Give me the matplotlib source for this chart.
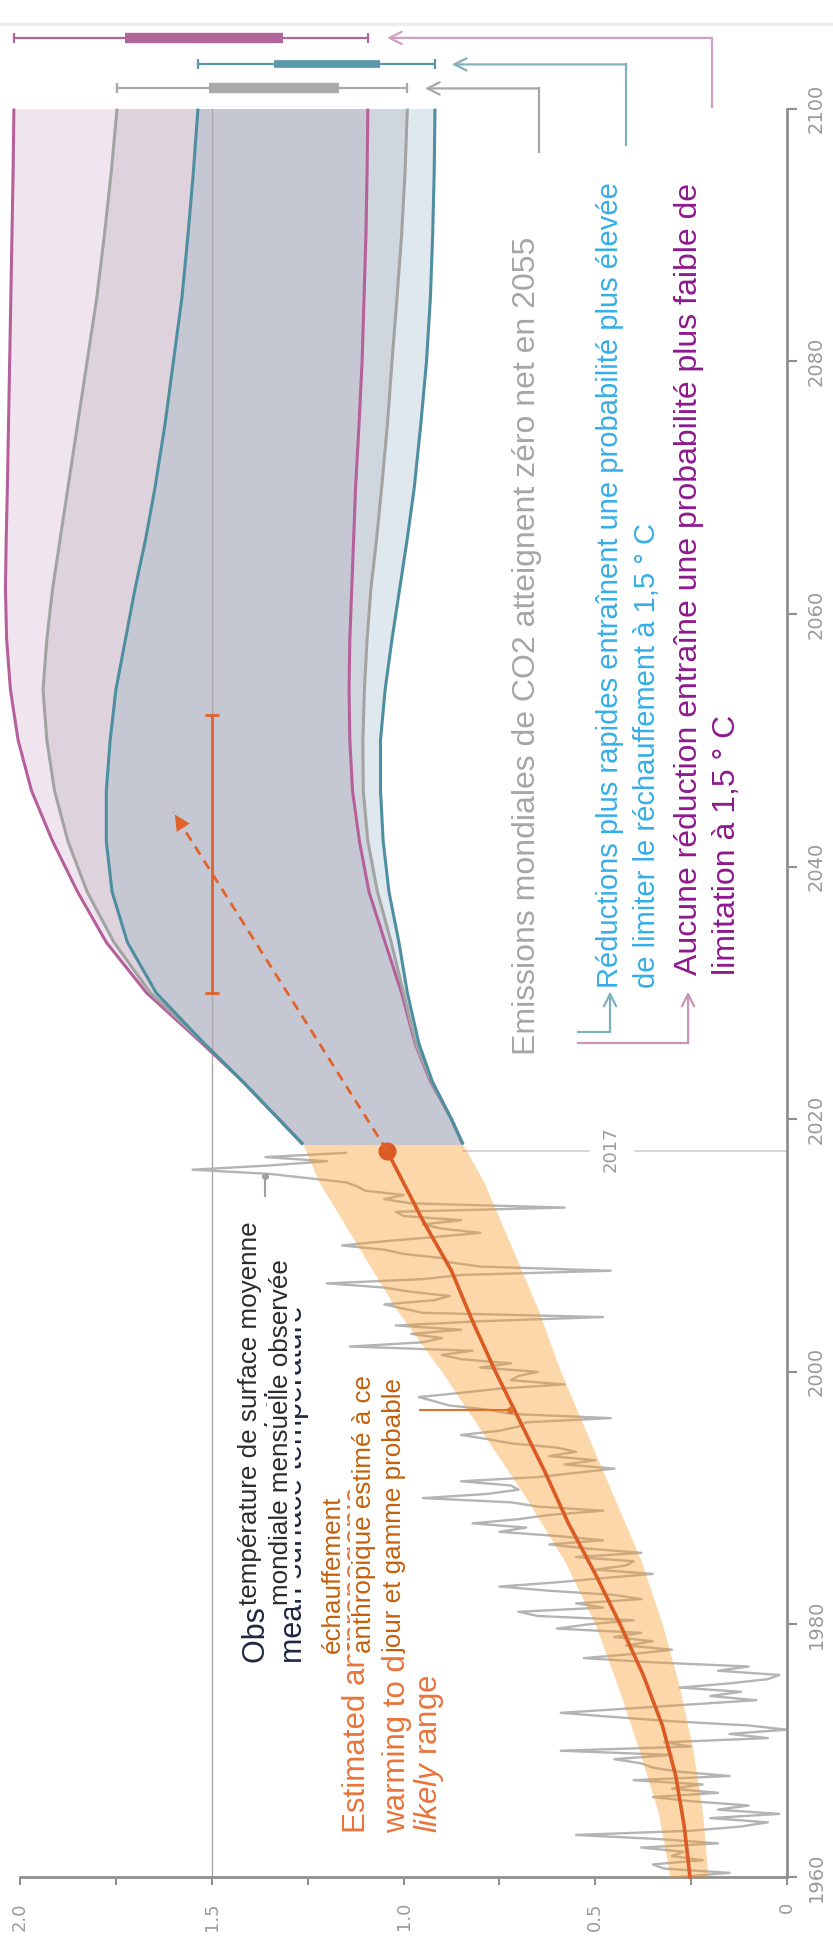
import matplotlib.pyplot as plt
import numpy as np

plt.rcParams['font.family'] = ['DejaVu Sans']
plt.rcParams['mathtext.fontset'] = 'custom'
plt.rcParams['mathtext.rm'] = 'Liberation Sans'
plt.rcParams['mathtext.it'] = 'Liberation Sans:italic'

# observed monthly global mean surface temperature, read every 4 months from 1960
obs_start = 1960
obs_temp = [
    0.28, 0.15, 0.32, 0.35, 0.22, 0.30, 0.27, 0.38, 0.18, 0.33, 0.55, 0.25,
    0.12, 0.05, 0.20, 0.02, 0.18, 0.10, 0.25, 0.35, 0.18, 0.30, 0.22, 0.40,
    0.15, 0.28, 0.35, 0.38, 0.45, 0.30, 0.59, 0.25, 0.32, 0.05, 0.15, 0.00,
    0.10, 0.30, 0.45, 0.59, 0.42, 0.25, 0.08, 0.20, 0.12, 0.28, 0.15, 0.05,
    0.02, 0.18, 0.10, 0.35, 0.53, 0.40, 0.30, 0.42, 0.35, 0.45, 0.38, 0.60,
    0.52, 0.40, 0.65, 0.70, 0.48, 0.55, 0.38, 0.45, 0.62, 0.75, 0.60, 0.48,
    0.35, 0.50, 0.42, 0.40, 0.55, 0.38, 0.52, 0.62, 0.48, 0.60, 0.75, 0.68,
    0.82, 0.70, 0.62, 0.48, 0.65, 0.72, 0.95, 0.78, 0.70, 0.72, 0.85, 0.65,
    0.55, 0.45, 0.58, 0.50, 0.62, 0.55, 0.60, 0.72, 0.78, 0.85, 0.75, 0.70,
    0.68, 0.46, 0.72, 0.78, 0.88, 0.92, 0.96, 0.85, 0.75, 0.58, 0.72, 0.70,
    0.65, 0.80, 0.72, 0.85, 0.90, 0.82, 1.14, 0.95, 0.90, 0.98, 0.85, 1.02,
    0.80, 0.48, 0.95, 1.00, 1.05, 0.92, 0.88, 0.98, 1.05, 1.20, 0.95, 0.85,
    0.46, 0.80, 0.88, 0.90, 1.00, 1.05, 1.16, 1.05, 0.92, 0.80, 0.90, 0.95,
    0.85, 1.00, 1.02, 0.58, 0.98, 1.05, 1.00, 1.10, 1.12, 1.15, 1.25, 1.35,
    1.55, 1.35, 1.20, 1.36, 1.15,
]

# estimated anthropogenic warming and likely range
warm_years = [1960, 1964, 1968, 1972, 1976, 1980, 1984, 1988, 1992, 1996, 2000, 2004, 2008, 2012, 2017.5]
warm_mid = [0.253, 0.268, 0.29, 0.325, 0.375, 0.435, 0.50, 0.57, 0.63, 0.695, 0.76, 0.82, 0.875, 0.95, 1.043]
band_years = [1960, 1965, 1970, 1975, 1980, 1985, 1990, 1995, 2000, 2005, 2010, 2015, 2018]
band_hi = [0.305, 0.335, 0.385, 0.44, 0.50, 0.58, 0.68, 0.79, 0.90, 1.02, 1.12, 1.22, 1.262]
band_lo = [0.206, 0.22, 0.245, 0.28, 0.325, 0.38, 0.45, 0.52, 0.59, 0.65, 0.72, 0.79, 0.845]

# pathway plumes 2018-2100
path_years = [2018, 2020, 2023, 2026, 2030, 2034, 2038, 2042, 2046, 2050, 2054,
              2058, 2062, 2066, 2070, 2075, 2080, 2085, 2090, 2095, 2100]
mag_hi = [1.262, 1.325, 1.42, 1.525, 1.67, 1.775, 1.85, 1.915, 1.97, 2.005, 2.025,
          2.035, 2.038, 2.036, 2.033, 2.03, 2.027, 2.024, 2.021, 2.018, 2.016]
mag_lo = [0.845, 0.875, 0.93, 0.97, 1.005, 1.048, 1.09, 1.115, 1.133, 1.14, 1.142,
          1.14, 1.135, 1.13, 1.125, 1.116, 1.108, 1.103, 1.098, 1.095, 1.093]
gry_hi = [1.262, 1.325, 1.42, 1.52, 1.66, 1.755, 1.825, 1.875, 1.91, 1.93, 1.94,
          1.93, 1.915, 1.895, 1.875, 1.85, 1.825, 1.80, 1.78, 1.762, 1.747]
gry_lo = [0.845, 0.875, 0.928, 0.968, 1.0, 1.032, 1.068, 1.093, 1.105, 1.106, 1.102,
          1.095, 1.085, 1.07, 1.057, 1.042, 1.03, 1.017, 1.005, 0.996, 0.99]
teal_hi = [1.262, 1.325, 1.42, 1.52, 1.645, 1.72, 1.76, 1.775, 1.775, 1.765, 1.75,
           1.725, 1.70, 1.672, 1.648, 1.622, 1.60, 1.578, 1.562, 1.548, 1.536]
teal_lo = [0.845, 0.875, 0.925, 0.96, 0.99, 1.012, 1.038, 1.053, 1.06, 1.06, 1.048,
           1.03, 1.01, 0.99, 0.972, 0.955, 0.94, 0.93, 0.924, 0.92, 0.918]

# 2100 ranges (thick part) for the three pathways
bar_names = ['mag', 'teal', 'gry']
bar_thick = [(1.726, 1.314), (1.338, 1.061), (1.507, 1.168)]

# when 1.5 is crossed at the current rate
cross_years = [2030, 2052]
arrow_end = (1.60, 2044.3)

# tick labels
temp_ticks = [0, 0.5, 1.0, 1.5, 2.0]
temp_labels = ['0', '0.5', '1.0', '1.5', '2.0']
temp_minor = [0.25, 0.75, 1.25, 1.75]
year_ticks = [1960, 1980, 2000, 2020, 2040, 2060, 2080, 2100]

orange = '#dc5a23'
mag_c = '#b5609a'
gry_c = '#a3a3a3'
teal_c = '#4d8fa0'
axis_c = '#8f8f8f'

fig = plt.figure(figsize=(8.33, 19.44), dpi=100)
ax = fig.add_axes([0, 0, 1, 1])
ax.set_xlim(2.0522, -0.1199)
ax.set_ylim(1954.7, 2108.6)
ax.set_facecolor('white')

yrs = np.array(path_years)
# plumes, layered so the overlaps keep their own tint
ax.fill_betweenx(yrs, mag_lo, mag_hi, color='#f0e5ee', lw=0, zorder=1)
ax.fill_betweenx(yrs, teal_lo, teal_hi, color='#dfe8ee', lw=0, zorder=1.1)
ax.fill_betweenx(yrs, gry_lo, gry_hi, color='#ded3dd', lw=0, zorder=1.2)
ax.fill_betweenx(yrs, gry_lo, teal_hi, color='#cfd6dd', lw=0, zorder=1.3)
ax.fill_betweenx(yrs, mag_lo, teal_hi, color='#c5c7d2', lw=0, zorder=1.4)

# 1.5 reference
ax.plot([1.5, 1.5], [1960, 2100], color='#a9a9a9', lw=1, zorder=2)

for arr, col in [(mag_hi, mag_c), (mag_lo, mag_c), (gry_hi, gry_c), (gry_lo, gry_c),
                 (teal_hi, teal_c), (teal_lo, teal_c)]:
    ax.plot(arr, yrs, color=col, lw=2.2, zorder=2.6, solid_capstyle='butt')

# observed monthly series
obs_years = obs_start + np.arange(len(obs_temp)) / 3
ax.plot(obs_temp, obs_years, color='#b4b4b4', lw=1.7, zorder=2.2)

# anthropogenic warming
ax.fill_betweenx(band_years, band_lo, band_hi, color='#f59822', alpha=0.39, lw=0, zorder=3)
ax.plot(warm_mid, warm_years, color=orange, lw=2.6, zorder=4)
ax.plot(warm_mid[-1], warm_years[-1], 'o', ms=12, color=orange, zorder=5)

# dashed extrapolation and crossing range
ax.plot([warm_mid[-1], arrow_end[0]], [warm_years[-1], arrow_end[1]], color='#e0642c',
        lw=2, ls=(0, (3.5, 2.5)), zorder=5)
ax.annotate('', xy=arrow_end, xytext=(arrow_end[0] - 0.05, arrow_end[1] - 2.4),
            arrowprops=dict(arrowstyle='-|>', color='#e0642c', lw=0, mutation_scale=28),
            zorder=5)
ax.plot([1.5, 1.5], cross_years, color='#e0642c', lw=2, zorder=5)
ax.plot([1.5, 1.5], cross_years, ls='none', marker='_', ms=10, mew=2, color='#e0642c', zorder=5)

# 2017 marker line
ax.plot([band_lo[-1], 0.517], [2017.5, 2017.5], color='#d0d0d0', lw=1.2, zorder=2)
ax.plot([0.397, 0.0], [2017.5, 2017.5], color='#d0d0d0', lw=1.2, zorder=2)
ax.text(0.459, 2017.6, '2017', rotation=90, ha='center', va='center', fontsize=13,
        color='#9a9a9a')

# 2100 ranges above the plumes
bar_y = {'mag': 2105.6, 'teal': 2103.5, 'gry': 2101.6}
bar_c = {'mag': '#b0659b', 'teal': '#5a98ab', 'gry': '#a9a9a9'}
ends = {'mag': (mag_hi[-1], mag_lo[-1]), 'teal': (teal_hi[-1], teal_lo[-1]),
        'gry': (gry_hi[-1], gry_lo[-1])}
for name, thick in zip(bar_names, bar_thick):
    y = bar_y[name]
    ax.plot(ends[name], [y, y], color=bar_c[name], lw=1.6, clip_on=False, zorder=3)
    ax.plot(ends[name], [y, y], ls='none', marker='|', ms=7, mew=1.6,
            color=bar_c[name], clip_on=False, zorder=3)
    ax.plot(thick, [y, y], color=bar_c[name], lw=7.5 if name != 'teal' else 5.5,
            solid_capstyle='butt', clip_on=False, zorder=3)

# connectors from the labels up to the 2100 ranges
conn = [('#d39fc0', 0.196, 2100.1, 2105.6, 1.043),
        ('#83b2bd', 0.42, 2097.1, 2103.5, 0.874),
        ('#a8a8a8', 0.647, 2096.6, 2101.6, 0.944)]
for col, x0, y0, y1, x1 in conn:
    ax.plot([x0, x0], [y0, y1], color=col, lw=1.6, zorder=3)
    ax.annotate('', xy=(x1, y1), xytext=(x0, y1),
                arrowprops=dict(arrowstyle='->', color=col, lw=1.6, mutation_scale=22,
                                shrinkA=0, shrinkB=0))

# connectors to the two lower labels
for col, xa, xb, ya in [('#7fb0bb', 0.545, 0.4615, 2026.9), ('#c795b6', 0.545, 0.258, 2026.0)]:
    ax.plot([xa, xb], [ya, ya], color=col, lw=1.6, zorder=3)
    ax.annotate('', xy=(xb, 2030.1), xytext=(xb, ya),
                arrowprops=dict(arrowstyle='->', color=col, lw=1.6, mutation_scale=22,
                                shrinkA=0, shrinkB=0))


def vtext(x, y, s, **kw):
    ax.text(x, y, s, rotation=90, rotation_mode='anchor', ha='left', va='baseline',
            family='Liberation Sans', **kw)


vtext(0.657, 2025.1, 'Emissions mondiales de CO2 atteignent zéro net en 2055',
      fontsize=23, color='#a6a6a6')
vtext(0.441, 2030.4, 'Réductions plus rapides entraînent une probabilité plus élevée',
      fontsize=21, color='#35aee8')
vtext(0.344, 2030.4, 'de limiter le réchauffement à 1,5 ° C', fontsize=21, color='#35aee8')
vtext(0.235, 2031.4, 'Aucune réduction entraîne une probabilité plus faible de',
      fontsize=23, color='#8e1a8e')
vtext(0.136, 2031.4, 'limitation à 1,5 ° C', fontsize=23, color='#8e1a8e')

# English labels, partly hidden by the French ones
vtext(1.361, 1976.94, 'Observed monthly global', fontsize=22, color='#1d2742', zorder=6)
vtext(1.265, 1976.94, 'mean surface temperature', fontsize=22, color='#1d2742', zorder=6)
vtext(1.100, 1963.5, 'Estimated anthropogenic', fontsize=22.5, color='#e8743a', zorder=6)
vtext(0.996, 1963.5, 'warming to date and', fontsize=22.5, color='#e8743a', zorder=6)
vtext(0.913, 1963.5, r'$\mathit{likely}$ range', fontsize=22.5, color='#e8743a', zorder=6)

box = dict(facecolor='white', edgecolor='none', pad=1.5)
vtext(1.382, 1981.5, 'température de surface moyenne', fontsize=18.7, color='#2b2b2b',
      bbox=box, zorder=7)
vtext(1.301, 1981.5, 'mondiale mensuelle observée', fontsize=18.7, color='#2b2b2b',
      bbox=box, zorder=7)
vtext(1.1656, 1977.7, 'échauffement', fontsize=18.7, color='#c4600c', bbox=box, zorder=7)
vtext(1.085, 1977.7, 'anthropique estimé à ce', fontsize=18.7, color='#c4600c', bbox=box, zorder=7)
vtext(1.004, 1977.7, 'jour et gamme probable', fontsize=18.7, color='#c4600c', bbox=box, zorder=7)

# leaders
ax.plot([0.957, 0.722], [1997, 1997], color='#e0702e', lw=1.5, zorder=5)
ax.plot(0.722, 1997, 'o', ms=4, color='#e0702e', zorder=5)
ax.plot([1.361, 1.361], [2013.9, 2015.5], color='#a0a0a0', lw=1.5, zorder=5)
ax.plot(1.361, 2015.5, 'o', ms=4, color='#a0a0a0', zorder=5)

# thin separator at the very top
ax.axhline(2106.7, color='#eeeeee', lw=2.5, zorder=0)

# axes
ax.spines['left'].set_visible(False)
ax.spines['top'].set_visible(False)
ax.spines['bottom'].set_position(('data', 1960))
ax.spines['bottom'].set_bounds(0, 2.0)
ax.spines['right'].set_position(('data', 0.0))
ax.spines['right'].set_bounds(1960, 2100)
for s in ['bottom', 'right']:
    ax.spines[s].set_color(axis_c)
    ax.spines[s].set_linewidth(2)
ax.yaxis.tick_right()
ax.set_xticks(temp_ticks)
ax.set_xticks(temp_minor, minor=True)
ax.set_xticklabels(temp_labels, rotation=90)
ax.set_yticks(year_ticks)
ax.set_yticklabels([str(y) for y in year_ticks], rotation=90, va='center')
ax.tick_params(axis='x', which='both', direction='out', length=6, width=1.5, color=axis_c,
               labelcolor='#9a9a9a', labelsize=13, pad=12)
ax.tick_params(axis='y', direction='out', length=7, width=1.5, color=axis_c,
               labelcolor='#9a9a9a', labelsize=14, pad=7)

fig.savefig('out.png', dpi=100, facecolor='white')
